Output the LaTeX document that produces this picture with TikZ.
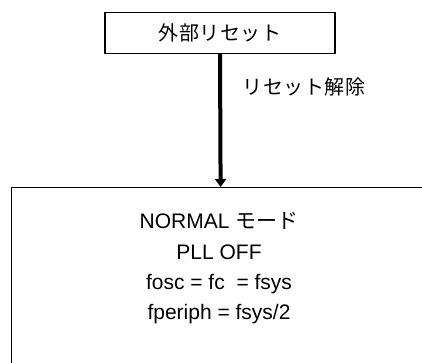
\documentclass[tikz,border=0pt]{standalone}
\usepackage{fontspec}
\setmainfont{Liberation Sans}
\newfontfamily\jp{Noto Sans CJK JP}
\newfontfamily\jpwide[LetterSpace=3]{Noto Sans CJK JP}
\usetikzlibrary{arrows.meta,positioning}
\begin{document}
\begin{tikzpicture}[x=1pt,y=-1pt,
  box/.style={draw,line width=1.2pt,inner sep=0pt},
  jptext/.style={font=\jpwide\fontsize{20}{24}\selectfont},
  modeline/.style={font=\fontsize{21}{25}\selectfont,anchor=base}]
\clip (0,0) rectangle (422,363);
\node[box,jptext,minimum width=230pt,minimum height=41pt] (reset) at (220,33) {外部リセット};
\node[box,anchor=north west,minimum width=418pt,minimum height=200pt] (normal) at (11,187) {};
\draw[line width=4pt,-{Triangle[width=11pt,length=8pt]}] (reset.south) -- (normal.north);
\node[jptext] (release) at (304,87) {リセット解除};
\node[modeline] (mode) at (219,228) {NORMAL {\jp モード}};
\node[modeline] (pll) at (219,259) {PLL OFF};
\node[modeline] (fosc) at (219,289) {fosc = fc\ \ = fsys};
\node[modeline] (fperiph) at (219,319) {fperiph = fsys/2};
\end{tikzpicture}
\end{document}
